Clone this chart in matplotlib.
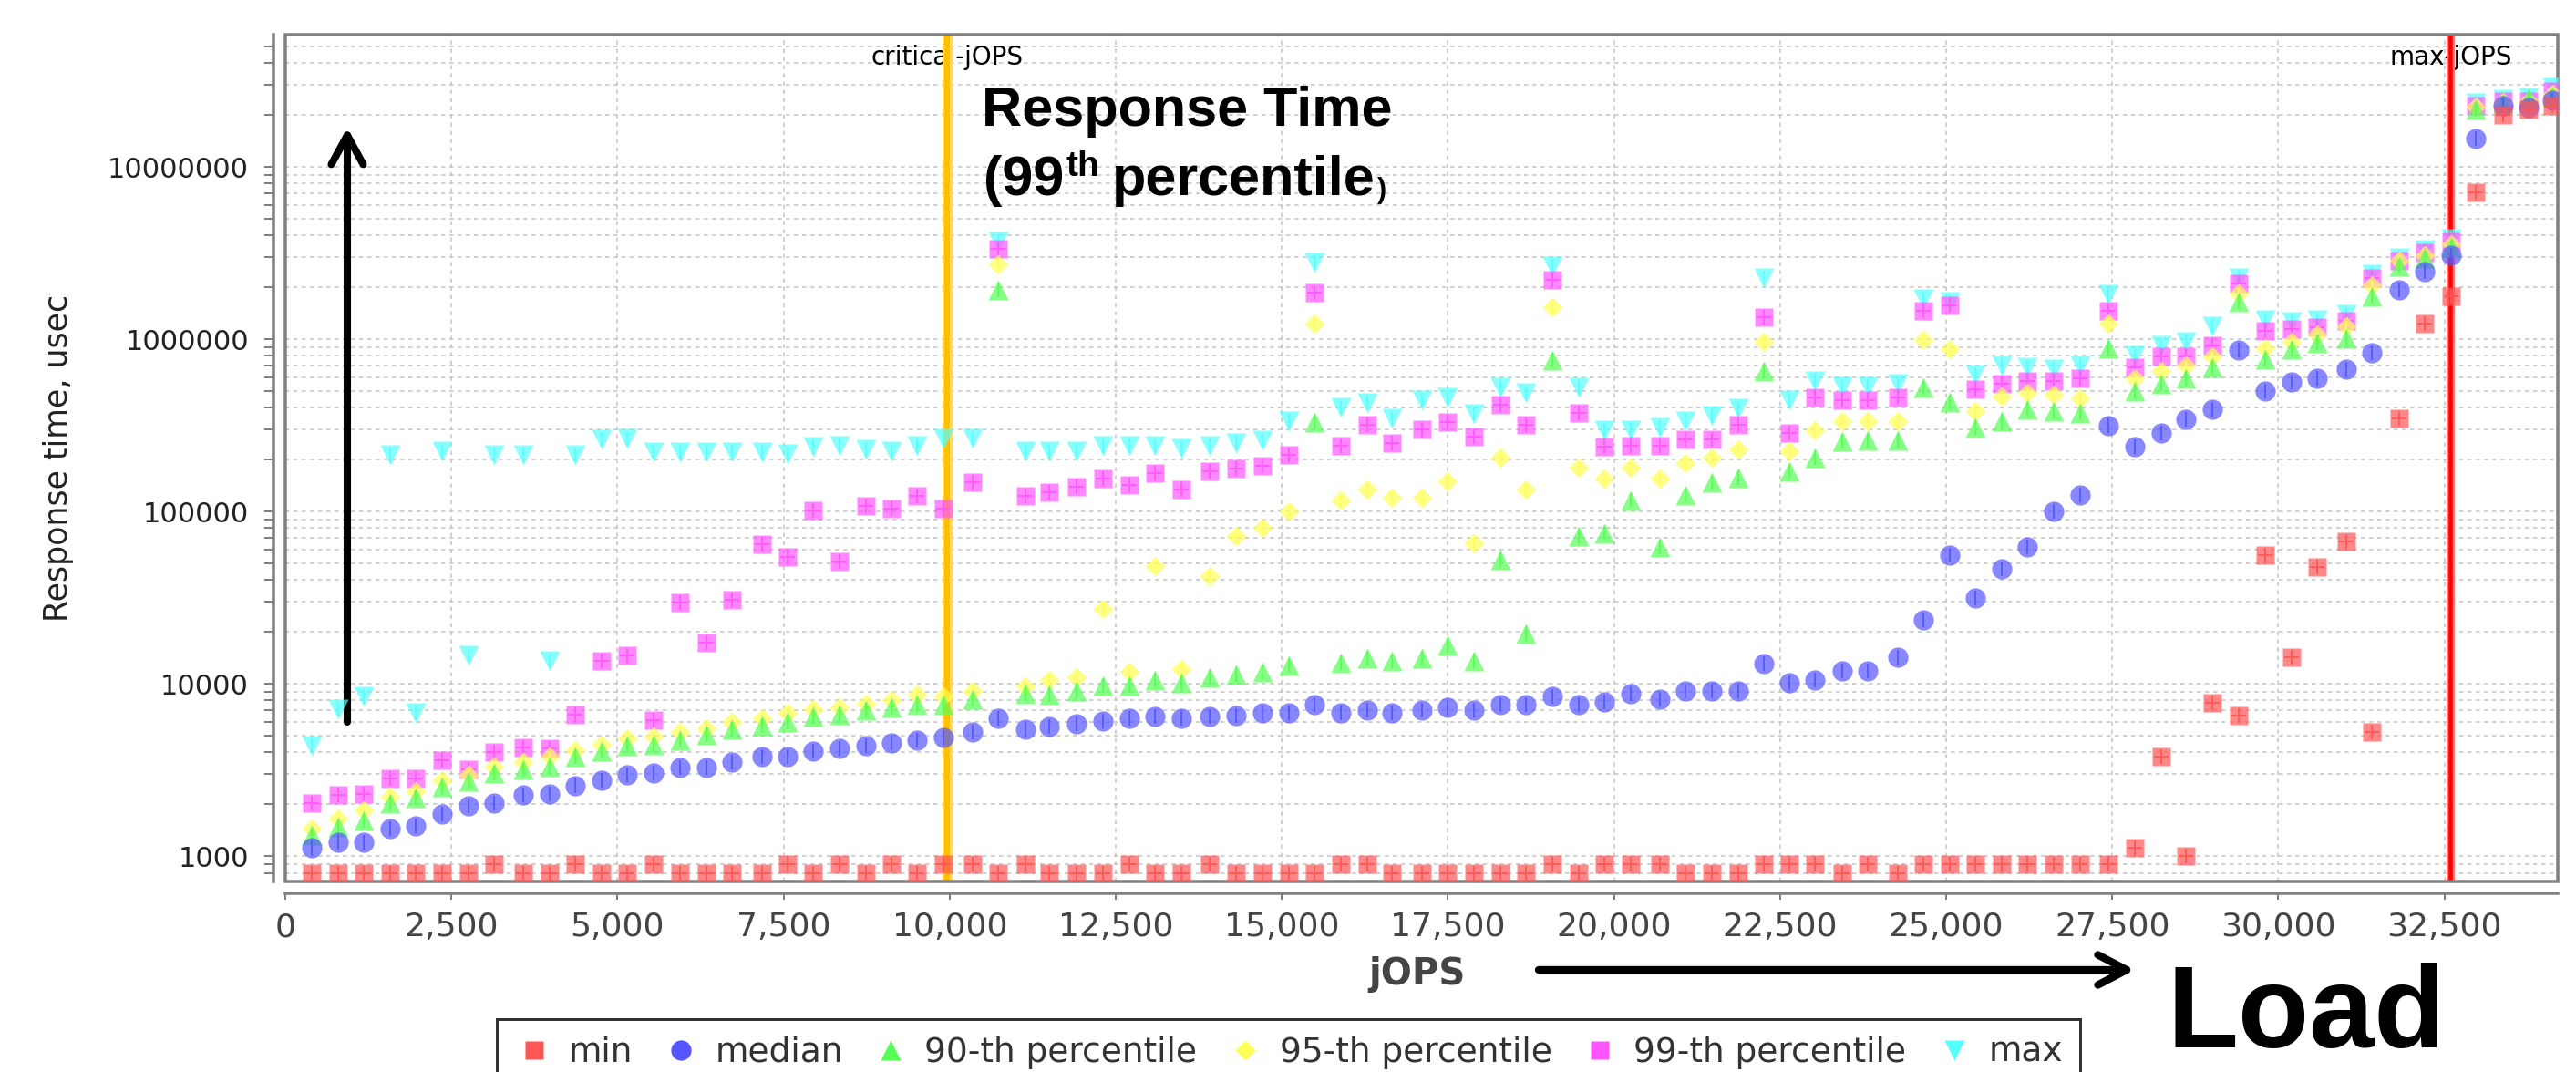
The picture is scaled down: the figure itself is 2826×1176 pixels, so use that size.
import matplotlib
matplotlib.use("Agg")
import matplotlib.pyplot as plt
import numpy as np
from matplotlib.lines import Line2D
from matplotlib.patches import Rectangle
from matplotlib.ticker import LogLocator, FuncFormatter, MultipleLocator, NullFormatter
import matplotlib.transforms as mtransforms

W, H = 2826, 1176
DPI = 100
PX = 72.0 / DPI  # points per pixel

# --- data --------------------------------------------------------------------
jops = [402, 800, 1185, 1583, 1967, 2365, 2758, 3147, 3586, 3984, 4368, 4766, 5150, 5548,
        5947, 6336, 6729, 7173, 7557, 7950, 8339, 8737, 9130, 9515, 9913, 10352, 10736, 11138, 11504,
        11916, 12314, 12702, 13096, 13485, 13919, 14317, 14715, 15104, 15497, 15886, 16284, 16664, 17107,
        17497, 17895, 18284, 18677, 19066, 19464, 19853, 20250, 20685, 21078, 21467, 21865, 22254, 22643, 23031,
        23430, 23823, 24267, 24656, 25049, 25434, 25832, 26225, 26614, 27012, 27446, 27835, 28233, 28613,
        29010, 29408, 29797, 30195, 30579, 31018, 31412, 31814, 32198, 32596, 32976, 33379, 33764, 34120]

rt_min = [800, 800, 800, 800, 800, 800, 800, 900, 800, 800, 900, 800, 800, 900,
          800, 800, 800, 800, 900, 800, 900, 800, 900, 800, 900, 900, 800, 900, 800,
          800, 800, 900, 800, 800, 900, 800, 800, 800, 800, 900, 900, 800, 800,
          800, 800, 800, 800, 900, 800, 900, 900, 900, 800, 800, 800, 900, 900, 900,
          800, 900, 800, 900, 900, 900, 900, 900, 900, 900, 900, 1124, 3766, 1000,
          7730, 6535, 55500, 14290, 47900, 67100, 5240, 346600, 1230000, 1778000,
          7146000, 19940000, 21500000, 22600000]

rt_median = [1124, 1210, 1210, 1453, 1507, 1746, 1949, 2021, 2255, 2305, 2554, 2749, 2958, 3027,
             3252, 3252, 3499, 3766, 3766, 4055, 4205, 4365, 4530, 4698, 4867, 5240, 6290, 5430, 5636,
             5850, 6070, 6290, 6430, 6290, 6430, 6535, 6775, 6775, 7560, 6775, 7030, 6775, 7030,
             7290, 7030, 7560, 7560, 8434, 7560, 7830, 8750, 8130, 9080, 9080, 9080, 13100, 10140, 10520,
             11900, 11900, 14290, 23540, 55500, 31560, 46540, 62400, 99700, 124200, 312800, 236700, 284500, 341300,
             389800, 867000, 499900, 562000, 591000, 670000, 836000, 1941000, 2472000, 3076000,
             14660000, 22500000, 22200000, 24200000]

rt_p90 = [1322, 1486, 1622, 2021, 2174, 2518, 2710, 3027, 3187, 3328, 3766, 4055, 4365, 4456,
          4698, 5050, 5430, 5720, 5985, 6430, 6622, 7030, 7290, 7560, 7560, 8130, 1941000, 8750, 8630,
          9080, 9775, 9775, 10520, 10140, 10920, 11300, 11730, 12820, 329000, 13300, 14100, 13590, 14100,
          16680, 13590, 52700, 19600, 753700, 71800, 74400, 115400, 62400, 124200, 147000, 158100, 650500, 170300, 204600,
          254700, 258400, 258400, 522700, 431500, 306200, 336000, 389800, 381000, 373200, 885000, 499900, 549600, 591000,
          685000, 1652000, 765000, 873000, 952000, 1009000, 1778000, 2660000, 2965000, 3434000,
          21460000, 23500000, 24800000, 25700000]

rt_p95 = [1452, 1644, 1849, 2207, 2375, 2749, 2958, 3328, 3499, 3766, 4143, 4456, 4800, 4943,
          5240, 5520, 5985, 6290, 6775, 7130, 7290, 7670, 8015, 8630, 8434, 9080, 2718000, 9620, 10520,
          10920, 27200, 11730, 48300, 12160, 42300, 72300, 80000, 100400, 1230000, 115400, 133600, 120600, 120600,
          150300, 65600, 204600, 133600, 1534000, 179200, 154900, 179200, 154900, 190000, 204600, 228000, 966000, 223000, 295000,
          336000, 336000, 336000, 988000, 873000, 381000, 464800, 485300, 475000, 451000, 1230000, 591000, 650500, 699500,
          793000, 1841000, 885000, 966000, 1063000, 1186000, 2056000, 2860000, 3076000, 3562000,
          22240000, 23800000, 23900000, 26500000]

rt_p99 = [2021, 2255, 2305, 2812, 2812, 3583, 3207, 3998, 4298, 4205, 6622, 13590, 14620, 6150,
          29770, 17300, 30900, 64300, 54700, 101900, 51500, 108100, 104300, 122500, 104300, 147000, 3360000, 122500, 129800,
          139600, 154900, 141800, 166700, 133600, 170300, 176600, 183200, 212000, 1871000, 240000, 317500, 251000, 299500,
          329000, 270400, 415800, 317500, 2213000, 373200, 236700, 240000, 240000, 260600, 260600, 317500, 1345000, 284500, 458000,
          441500, 441500, 458000, 1458000, 1567000, 510300, 549600, 570000, 570000, 591000, 1458000, 685000, 793000, 793000,
          918000, 2103000, 1119000, 1145000, 1170000, 1277000, 2264000, 2860000, 3191000, 3697000,
          22600000, 24000000, 24000000, 27500000]

rt_max = [4365, 7130, 8434, 212000, 6775, 223000, 14620, 212000, 212000, 13590, 212000, 260600, 264000, 220000,
          220000, 220000, 220000, 220000, 217000, 236700, 240300, 228000, 223000, 240400, 264000, 264000, 3697000, 223000, 223000,
          223000, 240000, 240000, 240000, 233500, 240000, 251000, 258400, 336000, 2797000, 401000, 425300, 346600, 441500,
          458000, 367600, 522700, 485300, 2660000, 522700, 295000, 295000, 306200, 336000, 362000, 395000, 2264000, 441500, 570000,
          529800, 529800, 549600, 1715000, 1652000, 622000, 699500, 685000, 670000, 699500, 1817000, 805000, 918000, 966000,
          1186000, 2264000, 1296000, 1259000, 1296000, 1396000, 2385000, 2965000, 3311000, 3836000,
          23600000, 24500000, 25200000, 28800000]

series_names = ["min", "median", "90-th percentile", "95-th percentile", "99-th percentile", "max"]
series_values = [rt_min, rt_median, rt_p90, rt_p95, rt_p99, rt_max]

critical_jops = 9955
max_jops = 32593

# --- styling ----------------------------------------------------------------
colors = ["#ff5555", "#5555ff", "#55ff55", "#ffff55", "#ff55ff", "#55ffff"]
markers = ["s", "o", "^", "D", "s", "v"]
msizes = [14.5, 16, 16, 11.5, 14.5, 16]
GRAY = "#808080"


def fx(px):
    return px / W


def fy(py):
    return 1 - py / H


fig = plt.figure(figsize=(W / DPI, H / DPI), dpi=DPI)
ax = fig.add_axes([fx(313), fy(967), (2806 - 313) / W, (967 - 38) / H])

ax.set_yscale("log")
ax.set_xlim(0, 34207)
ax.set_ylim(713, 5.85e7)

# reference lines
ax.axvline(critical_jops, color="#ffd966", lw=11 * PX, zorder=1.5)
ax.axvline(critical_jops, color="#ffc000", lw=6 * PX, zorder=1.6)
ax.axvline(max_jops, color="#ff8080", lw=9 * PX, zorder=1.5)
ax.axvline(max_jops, color="#ff0000", lw=4.5 * PX, zorder=1.6)

blend = mtransforms.blended_transform_factory(ax.transData, ax.transAxes)
ax.text(critical_jops, 0.973, "critical-jOPS", transform=blend, ha="center", va="center",
        fontsize=20, color="black", zorder=1.2)
ax.text(max_jops, 0.973, "max-jOPS", transform=blend, ha="center", va="center",
        fontsize=20, color="black", zorder=1.2)

# data series: series 0 drawn on top (JFreeChart reverse order)
for i in reversed(range(len(series_values))):
    z = 3 + (len(series_values) - i) * 0.1
    ax.plot(jops, series_values[i], ls="none", marker=markers[i], ms=msizes[i],
            mfc=colors[i], mec="none", alpha=0.7, zorder=z)
    inner = "+" if markers[i] == "s" else "|"
    ax.plot(jops, series_values[i], ls="none", marker=inner, ms=msizes[i] * 0.75,
            mew=1.4, color=colors[i], alpha=0.9, zorder=z + 0.01)

# axes, ticks, grid
ax.xaxis.set_major_locator(MultipleLocator(2500))
ax.xaxis.set_major_formatter(FuncFormatter(lambda v, _: f"{int(v):,}"))
ax.yaxis.set_major_locator(LogLocator(base=10))
ax.yaxis.set_minor_locator(LogLocator(base=10, subs=np.arange(2, 10)))
ax.yaxis.set_major_formatter(FuncFormatter(lambda v, _: f"{int(round(v))}"))
ax.yaxis.set_minor_formatter(NullFormatter())

ax.grid(True, which="major", axis="x", color="#c4c4c4", ls=(0, (3, 3)), lw=1.5 * PX)
ax.grid(True, which="both", axis="y", color="#c4c4c4", ls=(0, (3, 3)), lw=1.5 * PX)
ax.set_axisbelow(True)

for side in ["top", "right"]:
    ax.spines[side].set_visible(False)
for side in ["left", "bottom"]:
    ax.spines[side].set_position(("outward", 13 * PX))
    ax.spines[side].set_color(GRAY)
    ax.spines[side].set_linewidth(3.5 * PX)

ax.add_patch(Rectangle((0, 0), 1, 1, transform=ax.transAxes, fill=False,
                       ec=GRAY, lw=3.5 * PX, clip_on=False, zorder=2.5))

ax.tick_params(axis="y", which="both", direction="out", length=10 * PX, width=2 * PX,
               color=GRAY, labelsize=22, labelcolor="#222222", pad=17 * PX)
ax.tick_params(axis="x", which="both", direction="out", length=7 * PX, width=2 * PX,
               color=GRAY, labelsize=26, labelcolor="#444444", pad=13 * PX)

fig.text(fx(64), fy(502), "Response time, usec", rotation=90, ha="center", va="center",
         fontsize=25, color="#222222")
fig.text(fx(1555), fy(1069), "jOPS", ha="center", va="center", fontsize=29,
         fontweight="bold", color="#444444")

# legend
handles = [Line2D([], [], ls="none", marker=markers[i], ms=msizes[i], mfc=colors[i], mec="none")
           for i in range(len(series_names))]
leg = fig.legend(handles, series_names, loc="upper left", bbox_to_anchor=(fx(545), fy(1118)),
                 ncol=6, frameon=True, fancybox=False, edgecolor="black", fontsize=27,
                 handlelength=1.2, handletextpad=0.4, columnspacing=0.8,
                 borderpad=0.5, borderaxespad=0, numpoints=1)
leg.get_frame().set_linewidth(3 * PX)
for t in leg.get_texts():
    t.set_color("#333333")

# annotations: pieces placed one after another using measured extents
bold = dict(family="Liberation Sans", fontweight="bold", color="black", va="baseline", ha="left")
fig.text(fx(1077), fy(138), "Response Time", fontsize=44, **bold)
renderer = fig.canvas.get_renderer()
t1 = fig.text(fx(1079), fy(214), "(99", fontsize=44, **bold)
x_end = t1.get_window_extent(renderer).x1
t2 = fig.text((x_end + 2) / W, fy(193), "th", fontsize=28, **bold)
x_end = t2.get_window_extent(renderer).x1
t3 = fig.text((x_end + 14) / W, fy(214), "percentile", fontsize=44, **bold)
x_end = t3.get_window_extent(renderer).x1
fig.text((x_end + 2) / W, fy(217), ")", fontsize=22, **bold)
fig.text(fx(2377), fy(1149), "Load", fontsize=92, **bold)

ax.annotate("", xy=(381, H - 140), xytext=(381, H - 792), xycoords="figure pixels",
            textcoords="figure pixels", annotation_clip=False,
            arrowprops=dict(arrowstyle="->,head_length=23,head_width=12.6", mutation_scale=1,
                            lw=5.8, color="black", shrinkA=0, shrinkB=0))
ax.annotate("", xy=(2342, H - 1064), xytext=(1688, H - 1064), xycoords="figure pixels",
            textcoords="figure pixels", annotation_clip=False,
            arrowprops=dict(arrowstyle="->,head_length=22.7,head_width=11.9", mutation_scale=1,
                            lw=6, color="black", shrinkA=0, shrinkB=0))

fig.savefig("out.png", dpi=DPI)
